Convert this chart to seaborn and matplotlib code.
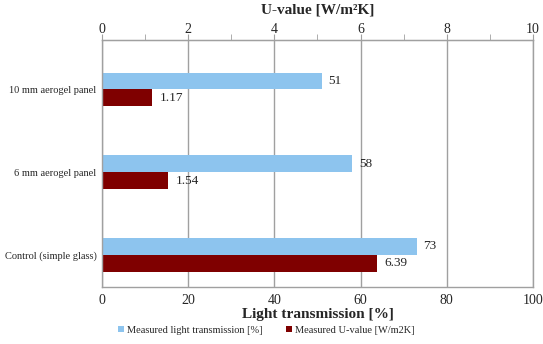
import matplotlib
matplotlib.use("Agg")
import matplotlib.pyplot as plt
from matplotlib.ticker import MultipleLocator
from matplotlib.patches import Patch
import pandas as pd
import seaborn as sns

# Data
panels = ['10 mm aerogel panel', '6 mm aerogel panel', 'Control (simple glass)']
light_transmission = [51, 58, 73]        # %
u_value = [1.17, 1.54, 6.39]             # W/m2K
series_names = ['Measured light transmission [%]', 'Measured U-value [W/m2K]']
colors = ['#8dc4ee', '#7f0000']

# U-value shares the bar axis through a x10 scale (secondary axis 0-10 on top)
df = pd.DataFrame({
    'panel': panels * 2,
    'series': [series_names[0]] * 3 + [series_names[1]] * 3,
    'value': light_transmission + [u * 10 for u in u_value],
})

sns.set_style('white')
plt.rcParams['font.family'] = ['Liberation Serif', 'DejaVu Serif']

fig = plt.figure(figsize=(5.43, 3.44), dpi=100)
ax = fig.add_axes([0.1878, 0.1657, 0.7938, 0.718])

sns.barplot(data=df, y='panel', x='value', hue='series', order=panels,
            hue_order=series_names, palette=colors, orient='h', width=0.41,
            linewidth=0, saturation=1, ax=ax, legend=False)

ax.set_xlim(0, 100)
ax.set_ylim(2.387, -0.598)
ax.xaxis.set_major_locator(MultipleLocator(20))
ax.xaxis.set_minor_locator(MultipleLocator(10))
ax.grid(axis='x', which='major', color='#a0a0a0', linewidth=1)
ax.set_axisbelow(True)
for sp in ax.spines.values():
    sp.set_color('#a0a0a0')
    sp.set_linewidth(1)
ax.tick_params(axis='x', which='both', direction='out', color='#a0a0a0',
               labelsize=10, pad=1, length=4)
ax.tick_params(axis='y', length=0, labelsize=7.5, pad=4)
ax.set_ylabel('')
ax.set_xlabel('Light transmission [%]', fontsize=11, fontweight='bold', labelpad=1)

# Secondary U-value axis on top
top = ax.secondary_xaxis('top', functions=(lambda x: x / 10, lambda x: x * 10))
top.xaxis.set_major_locator(MultipleLocator(2))
top.xaxis.set_minor_locator(MultipleLocator(1))
top.spines['top'].set_color('#a0a0a0')
top.tick_params(axis='x', which='both', direction='out', color='#a0a0a0',
                labelsize=10, pad=-1, length=4)
top.set_xlabel('U-value [W/m²K]', fontsize=11, fontweight='bold', labelpad=7)

# Value labels
ax.bar_label(ax.containers[0], labels=[str(v) for v in light_transmission],
             padding=5, fontsize=9.5)
ax.bar_label(ax.containers[1], labels=[f'{v:.2f}' for v in u_value],
             padding=5, fontsize=9.5)

handles = [Patch(facecolor=c, edgecolor='none') for c in colors]
fig.legend(handles, series_names, loc='lower center', bbox_to_anchor=(0.49, 0.0),
           ncol=2, frameon=False, fontsize=7.5, handlelength=0.6, handleheight=0.6,
           handletextpad=0.3, columnspacing=2.2)

fig.savefig('out.png', dpi=100)
